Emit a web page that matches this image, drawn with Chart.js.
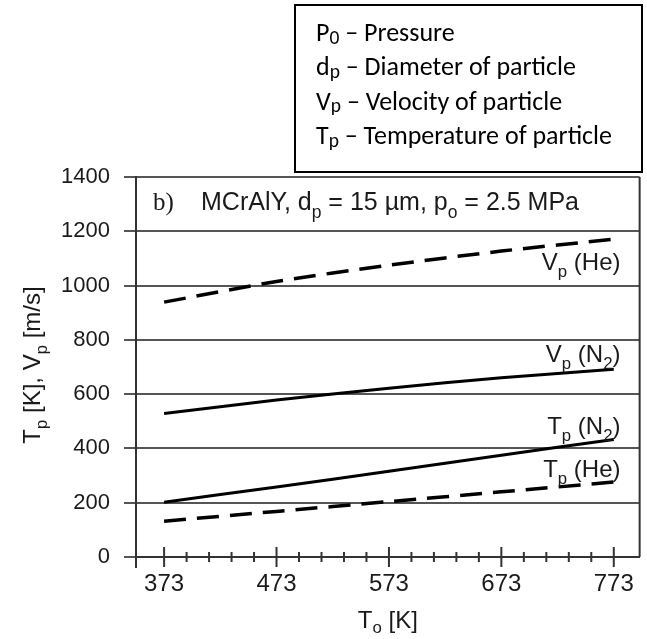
<!DOCTYPE html>
<html><head><meta charset="utf-8">
<script src="https://cdn.jsdelivr.net/npm/chart.js@4.4.0/dist/chart.umd.min.js"></script>
<style>html,body{margin:0;padding:0;background:#fff}#wrap{width:647px;height:639px;position:relative}</style>
</head><body><div id="wrap"><canvas id="c" width="647" height="639"></canvas></div>
<script>
// ---- data ----
const temperatures = [373, 473, 573, 673, 773];
const vpHe = [939, 1015, 1075, 1127, 1171];
const vpN2 = [529, 578, 622, 660, 692];
const tpN2 = [202, 258, 316, 375, 433];
const tpHe = [132, 168, 204, 240, 276];
const xTickLabels = [373, 473, 573, 673, 773];
const yTickValues = [0, 200, 400, 600, 800, 1000, 1200, 1400];
const seriesLabels = ['V_{p} (He)', 'V_{p} (N_{2})', 'T_{p} (N_{2})', 'T_{p} (He)'];
const legendLines = ['P_{0} – Pressure', 'd_{p} – Diameter of particle', 'V_{p} – Velocity of particle', 'T_{p} – Temperature of particle'];
const headerText = 'MCrAlY, d_{p} = 15 µm, p_{o} = 2.5 MPa';
const yTitle = 'T_{p} [K], V_{p} [m/s]';
const xTitle = 'T_{o} [K]';

// label anchors (data coords, right-aligned baseline)
const labelAnchors = [[779, 1058], [779, 720], [779, 455], [779, 295]];

const SANS = '"Liberation Sans", Arial, Helvetica, sans-serif';
const SERIF = '"Liberation Serif", "Times New Roman", serif';
const LEG = 'Carlito, Calibri, Lato, sans-serif';

function pts(vals){ return temperatures.map((t,i)=>({x:t, y:vals[i]})); }
function parse(str){
  const segs=[]; const re=/_\{([^}]*)\}/g; let last=0, m;
  while((m=re.exec(str))){ if(m.index>last) segs.push({t:str.slice(last,m.index)}); segs.push({t:m[1],sub:true}); last=re.lastIndex; }
  if(last<str.length) segs.push({t:str.slice(last)});
  return segs;
}
function drawRich(ctx, str, x, y, size, family, align, subScale, subDrop){
  const segs=parse(str); let w=0;
  segs.forEach(s=>{ ctx.font=(s.sub?size*subScale:size)+'px '+family; s.w=ctx.measureText(s.t).width; w+=s.w; });
  let cx = align==='right'? x-w : align==='center'? x-w/2 : x;
  ctx.textBaseline='alphabetic'; ctx.textAlign='left';
  segs.forEach(s=>{ ctx.font=(s.sub?size*subScale:size)+'px '+family; ctx.fillText(s.t, cx, y+(s.sub?size*subDrop:0)); cx+=s.w; });
  return w;
}

const deco = {
  id:'deco',
  afterDraw(chart){
    const ctx=chart.ctx, a=chart.chartArea, xs=chart.scales.x, ys=chart.scales.y;
    ctx.save();
    ctx.strokeStyle='#333'; ctx.lineWidth=2;
    // right frame
    ctx.beginPath(); ctx.moveTo(a.right, a.top); ctx.lineTo(a.right, a.bottom); ctx.stroke();
    // y axis extension below
    ctx.beginPath(); ctx.moveTo(a.left, a.bottom); ctx.lineTo(a.left, a.bottom+11); ctx.stroke();
    // x ticks crossing the axis
    xs.ticks.forEach(t=>{
      const px=xs.getPixelForValue(t.value); const major=xTickLabels.includes(t.value);
      const h = major?10:5;
      ctx.beginPath(); ctx.moveTo(px, a.bottom-h); ctx.lineTo(px, a.bottom+h); ctx.stroke();
    });
    ctx.fillStyle='#1a1a1a';
    // header
    ctx.font='25px '+SERIF; ctx.textBaseline='alphabetic'; ctx.fillText('b)', a.left+17, a.top+33);
    drawRich(ctx, headerText, a.left+65, a.top+33, 25, SANS, 'left', 0.7, 0.3);
    // series labels
    seriesLabels.forEach((s,i)=>{
      drawRich(ctx, s, xs.getPixelForValue(labelAnchors[i][0]), ys.getPixelForValue(labelAnchors[i][1]), 24, SANS, 'right', 0.7, 0.3);
    });
    // axis titles
    drawRich(ctx, xTitle, (a.left+a.right)/2, 628, 24, SANS, 'center', 0.7, 0.22);
    ctx.save(); ctx.translate(40, 365); ctx.rotate(-Math.PI/2);
    drawRich(ctx, yTitle, 0, 0, 24, SANS, 'center', 0.7, 0.3);
    ctx.restore();
    // legend box
    ctx.strokeStyle='#000'; ctx.lineWidth=2;
    ctx.strokeRect(295, 5, 347, 167);
    ctx.fillStyle='#000';
    legendLines.forEach((l,i)=>{ drawRich(ctx, l, 316, 41+i*34.3, 26, LEG, 'left', 0.75, 0.1); });
    ctx.restore();
  }
};

const lineBase = {borderColor:'#000', pointRadius:0, fill:false, tension:0.3};
new Chart(document.getElementById('c'), {
  type:'line',
  data:{ datasets:[
    Object.assign({label:'Vp (He)', data:pts(vpHe), borderWidth:3.5, borderDash:[22,11]}, lineBase),
    Object.assign({label:'Vp (N2)', data:pts(vpN2), borderWidth:3}, lineBase),
    Object.assign({label:'Tp (N2)', data:pts(tpN2), borderWidth:3}, lineBase),
    Object.assign({label:'Tp (He)', data:pts(tpHe), borderWidth:3.5, borderDash:[22,11]}, lineBase)
  ]},
  options:{
    responsive:false, animation:false, devicePixelRatio:1,
    layout:{padding:{top:177, right:4, left:0, bottom:0}},
    plugins:{legend:{display:false}, tooltip:{enabled:false}},
    scales:{
      x:{ type:'linear', min:348, max:796,
        afterBuildTicks(s){ const t=[]; for(let v=xTickLabels[0]; v<=xTickLabels[xTickLabels.length-1]; v+=20) t.push({value:v}); s.ticks=t; },
        afterFit(s){ s.height=82; },
        ticks:{ autoSkip:false, maxRotation:0, padding:13, color:'#1a1a1a', font:{family:SANS, size:24},
          callback:(v)=> xTickLabels.includes(v)? String(v):'' },
        grid:{display:false, drawTicks:false},
        border:{display:true, color:'#333', width:2}
      },
      y:{ min:0, max:1400,
        afterBuildTicks(s){ s.ticks=yTickValues.map(v=>({value:v})); },
        afterFit(s){ s.width=136; },
        ticks:{ padding:14, color:'#1a1a1a', font:{family:SANS, size:22}, callback:(v)=>String(v) },
        grid:{ color:'#555', lineWidth:2, tickLength:12, drawTicks:true },
        border:{display:true, color:'#333', width:2}
      }
    }
  },
  plugins:[deco]
});
</script></body></html>
